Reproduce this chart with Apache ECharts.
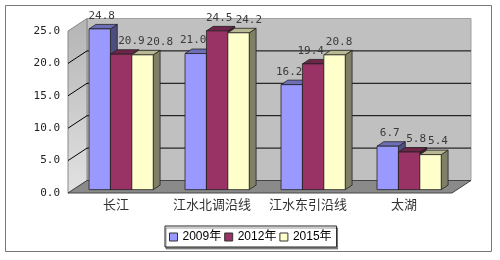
<!DOCTYPE html>
<html>
<head>
<meta charset="utf-8">
<script src="https://cdn.jsdelivr.net/npm/echarts@6/dist/echarts.min.js"></script>
<style>
  html, body { margin: 0; padding: 0; background: #fff; }
  #chart { width: 500px; height: 260px; }
</style>
</head>
<body>
<div id="chart"></div>
<script>
// 数据
const categories = ["长江", "江水北调沿线", "江水东引沿线", "太湖"];
const years = ["2009年", "2012年", "2015年"];
const v2009 = [24.8, 21.0, 16.2, 6.7];
const v2012 = [20.9, 24.5, 19.4, 5.8];
const v2015 = [20.8, 24.2, 20.8, 5.4];
const yTicks = [0, 5, 10, 15, 20, 25];

const colors = ["#9999ff", "#993366", "#ffffcc"];
// 3D 深度偏移
const DX = 19, DY = -12.5;
const FA = 0.27, FB = 0.63;
const CHAR_W = 6.6; // 标签字宽

const seriesValues = [v2009, v2012, v2015];

function shade(hex, k) {
  const n = parseInt(hex.slice(1), 16);
  const r = Math.round(((n >> 16) & 255) * k);
  const g = Math.round(((n >> 8) & 255) * k);
  const b = Math.round((n & 255) * k);
  return "rgb(" + r + "," + g + "," + b + ")";
}

// 墙面和地面
function renderWalls(params, api) {
  const cs = params.coordSys;
  const x0 = cs.x, x1 = cs.x + cs.width;
  const yb = api.coord([0, yTicks[0]])[1];
  const yt = api.coord([0, yTicks[yTicks.length - 1]])[1];
  const children = [
    {
      type: "polygon",
      shape: { points: [[x0 + DX, yt + DY], [x1 + DX, yt + DY], [x1 + DX, yb + DY], [x0 + DX, yb + DY]] },
      style: { fill: "#c0c0c0", stroke: "#a0a0a0", lineWidth: 1 },
    },
    {
      type: "polygon",
      shape: { points: [[x0, yt], [x0 + DX, yt + DY], [x0 + DX, yb + DY], [x0, yb]] },
      style: {
        fill: new echarts.graphic.LinearGradient(0, 0, 0, 1, [
          { offset: 0, color: "#b4b4b4" },
          { offset: 1, color: "#e2e2e2" },
        ]),
        stroke: "#888",
        lineWidth: 1,
      },
    },
    {
      type: "polygon",
      shape: { points: [[x0, yb], [x0 + DX, yb + DY], [x1 + DX, yb + DY], [x1, yb]] },
      style: { fill: "#8a8a8a", stroke: "#444", lineWidth: 1 },
    },
  ];
  yTicks.slice(1, -1).forEach((t) => {
    const y = api.coord([0, t])[1];
    children.push({
      type: "polyline",
      shape: { points: [[x0, y], [x0 + DX, y + DY], [x1 + DX, y + DY]] },
      style: { stroke: "#000", lineWidth: 1, fill: null },
    });
  });
  return { type: "group", children };
}

// 柱子前面的位置
function barBox(i, j, v, api) {
  const band = api.size([1, 0])[0];
  const w = band * 0.223;
  const cx = api.coord([i, 0])[0];
  const left = cx - 1.5 * w + j * w + FA * DX;
  return {
    v,
    left,
    right: left + w,
    top: api.coord([i, v])[1] + FA * DY,
    bot: api.coord([i, 0])[1] + FA * DY,
  };
}

// 立体柱子
function makeBarRender(j, color) {
  return function (params, api) {
    const b = barBox(api.value(0), j, api.value(1), api);
    const ox = (FB - FA) * DX, oy = (FB - FA) * DY;
    const line = { stroke: "#222", lineWidth: 0.8 };
    return {
      type: "group",
      children: [
        {
          type: "polygon",
          shape: { points: [[b.right, b.top], [b.right + ox, b.top + oy], [b.right + ox, b.bot + oy], [b.right, b.bot]] },
          style: Object.assign({ fill: shade(color, 0.5) }, line),
        },
        {
          type: "polygon",
          shape: { points: [[b.left, b.top], [b.left + ox, b.top + oy], [b.right + ox, b.top + oy], [b.right, b.top]] },
          style: Object.assign({ fill: shade(color, 0.72) }, line),
        },
        {
          type: "rect",
          shape: { x: b.left, y: b.top, width: b.right - b.left, height: b.bot - b.top },
          style: Object.assign({ fill: color }, line),
        },
      ],
    };
  };
}

// 计算同一类目内标签位置，避免被柱子或其他标签遮住
function labelPositions(i, api) {
  const ox = (FB - FA) * DX;
  const out = [];
  for (let j = 0; j < seriesValues.length; j++) {
    const v = seriesValues[j][i];
    const b = barBox(i, j, v, api);
    const text = v.toFixed(1);
    const hw = (text.length * CHAR_W) / 2;
    let x = (b.left + b.right) / 2 + 2;
    const y = b.top - 13;
    const next = seriesValues[j + 1];
    if (next && next[i] > v) {
      const nb = barBox(i, j + 1, next[i], api);
      x = Math.min(x, nb.left - hw);
    }
    if (j > 0) {
      const prev = seriesValues[j - 1][i];
      if (prev > v) x = Math.max(x, b.left + ox + hw + 1);
      const p = out[j - 1];
      if (Math.abs(p.y - y) < 12) x = Math.max(x, p.x + p.hw + hw + 2);
    }
    out.push({ x, y, hw, text });
  }
  return out;
}

// 数值标签
function makeLabelRender(j) {
  return function (params, api) {
    const p = labelPositions(api.value(0), api)[j];
    return {
      type: "text",
      x: p.x,
      y: p.y,
      style: {
        text: p.text,
        fill: "#3a3a3a",
        font: "11px 'DejaVu Sans Mono'",
        align: "center",
        verticalAlign: "middle",
      },
    };
  };
}

const chart = echarts.init(document.getElementById("chart"));
const option = {
  animation: false,
  graphic: [
    {
      type: "rect",
      shape: { x: 5.5, y: 5.5, width: 486, height: 246 },
      style: { fill: "none", stroke: "#777", lineWidth: 1 },
      z: 0,
    },
  ],
  grid: { left: 68, right: 48, top: 31, bottom: 67 },
  legend: {
    data: years,
    left: 165,
    top: 226,
    icon: "rect",
    itemWidth: 8,
    itemHeight: 8,
    itemGap: 3,
    padding: [5, 5, 4, 4],
    borderColor: "#222",
    borderWidth: 1,
    backgroundColor: "#fff",
    shadowColor: "rgba(0,0,0,0.4)",
    shadowOffsetX: 1,
    shadowOffsetY: 2,
    itemStyle: { borderColor: "#333", borderWidth: 1 },
    textStyle: { fontSize: 12, color: "#000", fontFamily: "'Liberation Sans', 'Noto Sans CJK SC'" },
  },
  xAxis: {
    type: "category",
    data: categories,
    axisLine: { show: false },
    axisTick: { show: true, inside: true, length: 3, lineStyle: { color: "#222" } },
    axisLabel: { interval: 0, margin: 5, fontSize: 13, color: "#333", fontFamily: "'Noto Sans CJK SC'" },
  },
  yAxis: {
    type: "value",
    min: 0,
    max: 25,
    interval: 5,
    axisLine: { show: true, lineStyle: { color: "#555" } },
    axisTick: { show: false },
    splitLine: { show: false },
    axisLabel: {
      margin: 8,
      fontSize: 11,
      color: "#222",
      fontFamily: "'DejaVu Sans Mono'",
      formatter: (v) => v.toFixed(1),
    },
  },
  series: [
    {
      type: "custom",
      name: "walls",
      renderItem: renderWalls,
      data: [[0, 0]],
      silent: true,
      z: 1,
    },
  ]
    .concat(
      years.map((name, j) => ({
        type: "custom",
        name,
        renderItem: makeBarRender(j, colors[j]),
        itemStyle: { color: colors[j] },
        encode: { x: 0, y: 1 },
        data: seriesValues[j].map((v, i) => [i, v]),
        z: 2,
      }))
    )
    .concat(
      years.map((name, j) => ({
        type: "custom",
        name: "label-" + name,
        renderItem: makeLabelRender(j),
        encode: { x: 0, y: 1 },
        data: seriesValues[j].map((v, i) => [i, v]),
        silent: true,
        z: 3,
      }))
    ),
};
chart.setOption(option);
</script>
</body>
</html>
